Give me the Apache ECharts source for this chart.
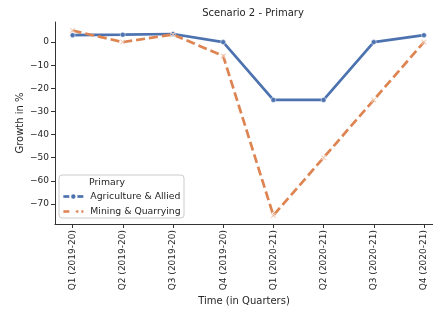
<!DOCTYPE html>
<html>
<head>
<meta charset="utf-8">
<title>Scenario 2 - Primary</title>
<script src="https://cdn.jsdelivr.net/npm/echarts@6/dist/echarts.min.js"></script>
<style>
* { margin: 0; padding: 0; }
#main { width: 433px; height: 313px; }
</style>
</head>
<body>
<div id="main"></div>
<script>
let quarters = ['Q1 (2019-20)', 'Q2 (2019-20)', 'Q3 (2019-20)', 'Q4 (2019-20)', 'Q1 (2020-21)', 'Q2 (2020-21)', 'Q3 (2020-21)', 'Q4 (2020-21)'];
let agriculture = [3, 3.2, 3.5, 0, -25, -25, 0, 3];
let mining = [5, 0, 3.3, -6, -75, -50, -25, 0];
let yTicks = [-70, -60, -50, -40, -30, -20, -10, 0];
let seriesNames = ['Agriculture & Allied', 'Mining & Quarrying'];

let font = 'DejaVu Sans';
let txt = '#262626';
let axisCol = '#333333';
let xPath = 'path://M1,0 L5,4 L9,0 L10,1 L6,5 L10,9 L9,10 L5,6 L1,10 L0,9 L4,5 L0,1 Z';

let myChart = echarts.init(document.getElementById('main'));

function toPairs(arr) {
	return arr.map((v, i) => [i, v]);
}

let option = {
	animation: false,
	backgroundColor: '#ffffff',
	title: {
		text: 'Scenario 2 - Primary',
		left: 248,
		textAlign: 'center',
		top: 3,
		textStyle: { fontFamily: font, fontSize: 10, fontWeight: 'normal', color: txt }
	},
	grid: { left: 55, right: 0, top: 22, bottom: 89 },
	xAxis: {
		type: 'value',
		min: -0.35,
		max: 7.18,
		name: 'Time (in Quarters)',
		nameLocation: 'middle',
		nameGap: 72,
		nameMoveOverlap: false,
		nameTextStyle: { fontFamily: font, fontSize: 10, color: txt },
		axisLine: { show: true, onZero: false, lineStyle: { color: axisCol, width: 1 } },
		axisTick: { show: true, length: 4, customValues: [0, 1, 2, 3, 4, 5, 6, 7], lineStyle: { color: axisCol } },
		axisLabel: {
			customValues: [0, 1, 2, 3, 4, 5, 6, 7],
			rotate: 90,
			margin: 6,
			fontFamily: font,
			fontSize: 9,
			color: txt,
			formatter: v => quarters[Math.round(v)]
		},
		splitLine: { show: false }
	},
	yAxis: {
		type: 'value',
		min: -78.7,
		max: 8.7,
		name: 'Growth in %',
		nameLocation: 'middle',
		nameGap: 30,
		nameMoveOverlap: false,
		nameTextStyle: { fontFamily: font, fontSize: 10, color: txt },
		axisLine: { show: true, onZero: false, lineStyle: { color: axisCol, width: 1 } },
		axisTick: { show: true, length: 4, customValues: yTicks, lineStyle: { color: axisCol } },
		axisLabel: {
			customValues: yTicks,
			margin: 6,
			fontFamily: font,
			fontSize: 9,
			color: txt,
			formatter: v => v < 0 ? '\u2212' + Math.abs(v) : String(v)
		},
		splitLine: { show: false }
	},
	graphic: [
		{
			type: 'rect',
			shape: { x: 59, y: 175, width: 125, height: 43, r: 3 },
			style: { fill: 'rgba(255,255,255,0.85)', stroke: '#cccccc', lineWidth: 1 },
			z: 10
		},
		{
			type: 'text',
			x: 107,
			y: 183,
			style: { text: 'Primary', fontFamily: font, fontSize: 9.3, fill: txt, align: 'center', verticalAlign: 'middle' },
			z: 11
		}
	],
	legend: {
		left: 62,
		top: 192,
		orient: 'vertical',
		itemWidth: 20,
		itemHeight: 8,
		itemGap: 6,
		padding: 0,
		z: 12,
		textStyle: { fontFamily: font, fontSize: 9.3, color: txt, padding: [0, 0, 0, 2] },
		data: [
			{ name: seriesNames[0], lineStyle: { type: 'solid', width: 2.7 } },
			{ name: seriesNames[1], lineStyle: { type: [6, 3], width: 2.7 } }
		]
	},
	series: [
		{
			name: seriesNames[0],
			type: 'line',
			data: toPairs(agriculture),
			symbol: 'circle',
			symbolSize: 5,
			lineStyle: { color: '#4c72b0', width: 2.7 },
			itemStyle: { color: '#4c72b0', borderColor: '#ffffff', borderWidth: 0.5 }
		},
		{
			name: seriesNames[1],
			type: 'line',
			data: toPairs(mining),
			symbol: xPath,
			symbolSize: 5,
			lineStyle: { color: '#dd8452', width: 2.7, type: [9, 4] },
			itemStyle: { color: '#dd8452', borderColor: '#ffffff', borderWidth: 0.5 }
		}
	]
};
myChart.setOption(option);
</script>
</body>
</html>
